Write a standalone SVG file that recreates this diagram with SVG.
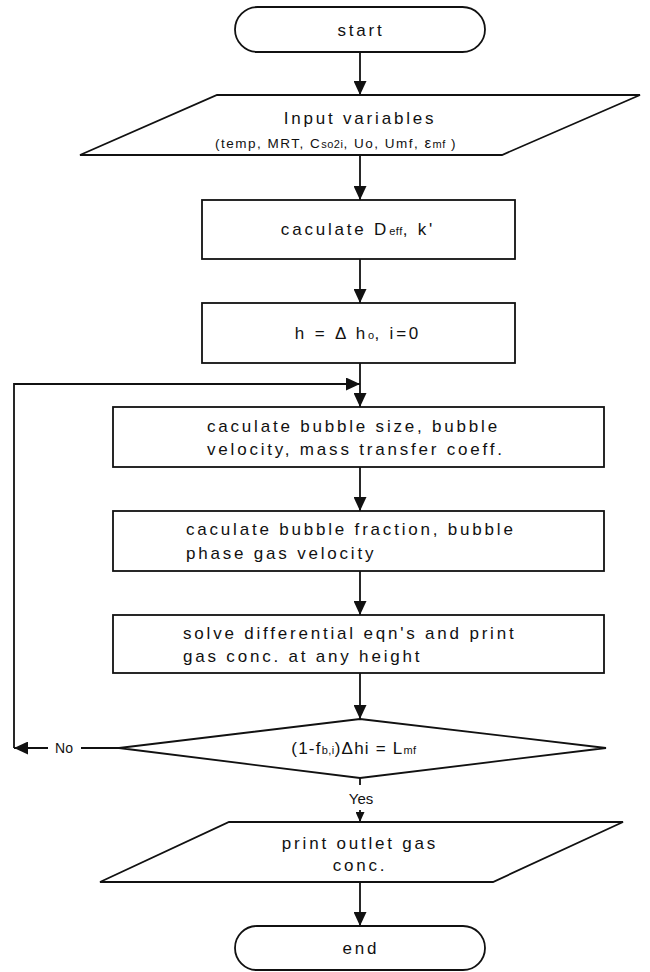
<svg xmlns="http://www.w3.org/2000/svg" width="650" height="972" viewBox="0 0 650 972">
  <style>
    .shape { fill: #ffffff; stroke: #111111; stroke-width: 1.8; }
    .link { fill: none; stroke: #111111; stroke-width: 1.8; }
    .t { font-family: "Liberation Sans", Arial, sans-serif; font-size: 17px; fill: #111111; letter-spacing: 2.8px; }
    .mid { text-anchor: middle; }
    .sub { font-size: 11px; letter-spacing: 0.5px; }
    .small { font-size: 13.5px; letter-spacing: 1.5px; }
    .lbl { font-family: "Liberation Sans", Arial, sans-serif; font-size: 15px; fill: #111111; text-anchor: middle; }
  </style>
  <defs>
    <marker id="arrow" viewBox="0 0 14 13" refX="14" refY="6.5" markerWidth="14" markerHeight="13" markerUnits="userSpaceOnUse" orient="auto">
      <path d="M0,0 L14,6.5 L0,13 Z" fill="#111111"/>
    </marker>
    <marker id="arrowSmall" viewBox="0 0 10 9" refX="10" refY="4.5" markerWidth="10" markerHeight="9" markerUnits="userSpaceOnUse" orient="auto">
      <path d="M0,0 L10,4.5 L0,9 Z" fill="#111111"/>
    </marker>
  </defs>

  <!-- connectors -->
  <g id="connectors">
    <path class="link" d="M360,52 V95" marker-end="url(#arrow)"/>
    <path class="link" d="M360,155 V200" marker-end="url(#arrow)"/>
    <path class="link" d="M360,259 V303" marker-end="url(#arrow)"/>
    <path class="link" d="M360,363 V407" marker-end="url(#arrow)"/>
    <path class="link" d="M360,467 V511" marker-end="url(#arrow)"/>
    <path class="link" d="M360,571 V615" marker-end="url(#arrow)"/>
    <path class="link" d="M360,673 V719" marker-end="url(#arrow)"/>
    <!-- loop back on "No" -->
    <path class="link" d="M119,748 H81"/>
    <path class="link" d="M48,748 H14" marker-end="url(#arrow)"/>
    <path class="link" d="M14,748 V384 H360" marker-end="url(#arrow)"/>
    <text class="lbl" x="64" y="753" style="font-size:14px">No</text>
    <!-- continue on "Yes" -->
    <path class="link" d="M360,778 V785"/>
    <text class="lbl" x="361" y="804">Yes</text>
    <path class="link" d="M360,810 V822" marker-end="url(#arrowSmall)"/>
    <path class="link" d="M360,882 V926" marker-end="url(#arrow)"/>
  </g>

  <g id="start">
    <rect class="shape" x="235" y="7" width="250" height="45" rx="22.5" ry="22.5"/>
    <text class="t mid" x="361" y="36">start</text>
  </g>

  <g id="input">
    <polygon class="shape" points="217,95 640,95 502,155 80,155"/>
    <text class="t mid" x="360" y="124">Input variables</text>
    <text class="t small mid" x="336" y="148">(temp, MRT, C<tspan class="sub">so2i</tspan>, Uo, Umf, <tspan style="font-size:15px">ε</tspan><tspan class="sub">mf</tspan> )</text>
  </g>

  <g id="calc-deff">
    <rect class="shape" x="202" y="200" width="313" height="59"/>
    <text class="t mid" x="358" y="235">caculate D<tspan class="sub" style="font-size:11px">eff</tspan>, k'</text>
  </g>

  <g id="init">
    <rect class="shape" x="202" y="303" width="313" height="60"/>
    <text class="t mid" x="358" y="339">h = Δ h<tspan class="sub" style="font-size:11px">o</tspan>, i=0</text>
  </g>

  <g id="calc-bubble">
    <rect class="shape" x="113" y="407" width="491" height="60"/>
    <text class="t" x="207" y="432">caculate bubble size, bubble</text>
    <text class="t" x="207" y="455">velocity, mass transfer coeff.</text>
  </g>

  <g id="calc-fraction">
    <rect class="shape" x="113" y="511" width="491" height="60"/>
    <text class="t" x="186" y="535">caculate bubble fraction, bubble</text>
    <text class="t" x="186" y="559">phase gas velocity</text>
  </g>

  <g id="solve">
    <rect class="shape" x="113" y="615" width="491" height="58"/>
    <text class="t" x="183" y="639">solve differential eqn's and print</text>
    <text class="t" x="183" y="662">gas conc. at any height</text>
  </g>

  <g id="check">
    <polygon class="shape" points="360,719 606,748 360,778 119,748"/>
    <text class="t mid" x="354" y="754" style="letter-spacing:1.2px">(1-f<tspan class="sub">b,i</tspan>)Δhi = L<tspan class="sub">mf</tspan></text>
  </g>

  <g id="output">
    <polygon class="shape" points="229,822 623,822 493,882 100,882"/>
    <text class="t mid" x="360" y="849">print outlet gas</text>
    <text class="t mid" x="360" y="871">conc.</text>
  </g>

  <g id="end">
    <rect class="shape" x="235" y="926" width="250" height="44" rx="22" ry="22"/>
    <text class="t mid" x="361" y="954">end</text>
  </g>
</svg>
